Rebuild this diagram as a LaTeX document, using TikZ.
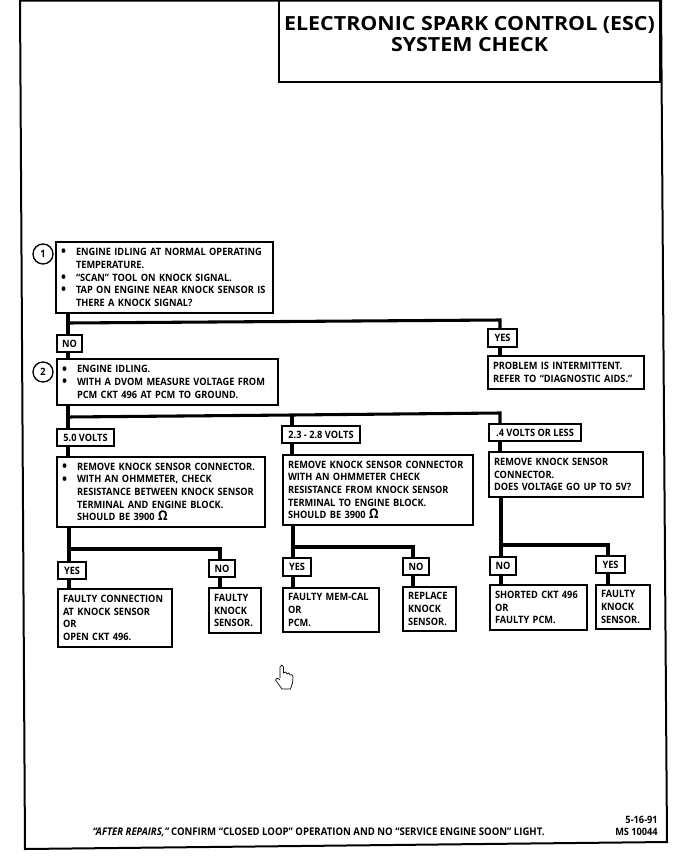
\documentclass[tikz,border=0pt]{standalone}
\usepackage{fontspec}
\setmainfont{Open Sans}[FakeStretch=0.91]
\newfontfamily\headfont{Open Sans}[FakeStretch=1.1]
\usepackage{tikz}
\usetikzlibrary{positioning}
\newlength{\hangw}
\setlength{\hangw}{11.25pt}
\newcommand{\bul}{\makebox[\hangw][l]{\raisebox{-0.8pt}{\fontsize{11}{9.5}\selectfont\textbullet}}}
\newcommand{\ind}{\hspace*{\hangw}}

\begin{document}
\begin{tikzpicture}[
    x=0.75pt, y=-0.75pt,
    every node/.style={font=\fontsize{7.6}{9.5}\selectfont\bfseries},
    stepbox/.style 2 args={draw=black, line width=1pt, fill=white, inner xsep=3.75pt, inner ysep=0pt,
                   text width=#1*0.75pt-7.5pt, minimum height=#2*0.75pt, align=left},
    tagbox/.style 2 args={draw=black, line width=1pt, fill=white, inner xsep=0pt, inner ysep=0pt,
                   minimum width=#1*0.75pt, minimum height=#2*0.75pt, align=center},
    numdot/.style={draw=black, line width=1pt, circle, fill=white, inner sep=0pt, minimum size=15pt},
    wire/.style={draw=black, line width=2.3pt}
]
\useasboundingbox (0,0) rectangle (677,857);
\fill[white] (0,0) rectangle (677,857);
% sheet outline
\draw[line width=1.5pt] (20,0.5) -- (661,0.5) -- (667,842) -- (25,849) -- cycle;
\node[draw=black, line width=1pt, minimum width=381*0.75pt, minimum height=82*0.75pt, inner sep=0pt,
      label={[anchor=north, yshift=-9pt, align=center, font=\headfont\fontsize{14.6}{16}\selectfont\bfseries]90:ELECTRONIC SPARK CONTROL (ESC)\\SYSTEM CHECK}]
      (title) at (469.5,41) {};

\node[stepbox={217}{71}] (chk1) at (164.5,277.5) {\bul ENGINE IDLING AT NORMAL OPERATING\\
  \ind TEMPERATURE.\\
  \bul “SCAN” TOOL ON KNOCK SIGNAL.\\
  \bul TAP ON ENGINE NEAR KNOCK SENSOR IS\\
  \ind THERE A KNOCK SIGNAL?};
\node[numdot] (num1) at (43,254) {1};
\node[tagbox={25}{17}] (no1) at (69.5,343.5) {NO};
\node[tagbox={29}{18}] (yes1) at (502.5,338) {YES};
\node[stepbox={156}{33}] (prob) at (566,372.5) {PROBLEM IS INTERMITTENT.\\REFER TO “DIAGNOSTIC AIDS.”};
\node[stepbox={221}{46}] (chk2) at (167.5,382) {\bul ENGINE IDLING.\\
  \bul WITH A DVOM MEASURE VOLTAGE FROM\\
  \ind PCM CKT 496 AT PCM TO GROUND.};
\node[numdot] (num2) at (43,372) {2};

\node[tagbox={57}{17}] (fivev) at (85.5,437.5) {5.0 VOLTS};
\node[tagbox={78}{17}] (midv) at (321,434.5) {2.3 - 2.8 VOLTS};
\node[tagbox={92}{17}] (lowv) at (535,432.5) {.4 VOLTS OR LESS};

\node[stepbox={208}{70}] (fivechk) at (161,492) {\bul REMOVE KNOCK SENSOR CONNECTOR.\\
  \bul WITH AN OHMMETER, CHECK\\
  \ind RESISTANCE BETWEEN KNOCK SENSOR\\
  \ind TERMINAL AND ENGINE BLOCK.\\
  \ind SHOULD BE 3900 {\fontsize{10}{9.5}\selectfont Ω}};
\node[stepbox={190}{70}] (midchk) at (378,490) {REMOVE KNOCK SENSOR CONNECTOR\\
  WITH AN OHMMETER CHECK\\
  RESISTANCE FROM KNOCK SENSOR\\
  TERMINAL TO ENGINE BLOCK.\\
  SHOULD BE 3900 {\fontsize{10}{9.5}\selectfont Ω}};
\node[stepbox={154}{45}] (lowchk) at (566,474.5) {REMOVE KNOCK SENSOR\\
  CONNECTOR.\\
  DOES VOLTAGE GO UP TO 5V?};

\node[tagbox={28}{17}] (yesA) at (72,570.5) {YES};
\node[tagbox={26}{17}] (noA) at (222,568.5) {NO};
\node[tagbox={28}{18}] (yesB) at (297,567) {YES};
\node[tagbox={26}{17}] (noB) at (416,566.5) {NO};
\node[tagbox={26}{18}] (noC) at (503,566) {NO};
\node[tagbox={29}{17}] (yesC) at (610.5,564.5) {YES};

\node[stepbox={114}{58}] (resA) at (115,618) {FAULTY CONNECTION\\AT KNOCK SENSOR\\OR\\OPEN CKT 496.};
\node[stepbox={52}{45}] (resB) at (235,610.5) {FAULTY\\KNOCK\\SENSOR.};
\node[stepbox={96}{44}] (resC) at (331,610) {FAULTY MEM-CAL\\OR\\PCM.};
\node[stepbox={53}{44}] (resD) at (429.5,609) {REPLACE\\KNOCK\\SENSOR.};
\node[stepbox={97}{45}] (resE) at (538.5,607.5) {SHORTED CKT 496\\OR\\FAULTY PCM.};
\node[stepbox={54}{44}] (resF) at (623,607) {FAULTY\\KNOCK\\SENSOR.};

% junctions
\coordinate (topL) at (68,323);
\coordinate (topR) at (500,320);
\coordinate (midL) at (68,417);
\coordinate (midC) at (292,415);
\coordinate (midR) at (500,413);
\coordinate (lowAL) at (69,549);
\coordinate (lowAR) at (220,549);
\coordinate (lowBL) at (293,547);
\coordinate (lowBR) at (413,547);
\coordinate (lowCL) at (501,545);
\coordinate (lowCR) at (608,545);

\draw[wire] (chk1.south -| topL) -- (topL) -- (no1.north -| topL);
\draw[wire] (no1.south -| topL) -- (chk2.north -| topL);
\draw[wire] (topL) -- (topR) -- (yes1.north -| topR);
\draw[wire] (yes1.south -| topR) -- (prob.north -| topR);
\draw[wire] (chk2.south -| midL) -- (midL) -- (fivev.north -| midL);
\draw[wire] (fivev.south -| midL) -- (fivechk.north -| midL);
\draw[wire] (midL) -- (midC) -- (midR) -- (lowv.north -| midR);
\draw[wire] (lowv.south -| midR) -- (lowchk.north -| midR);
\draw[wire] (midC) -- (midv.north -| midC);
\draw[wire] (midv.south -| midC) -- (midchk.north -| midC);
\draw[wire] (fivechk.south -| lowAL) -- (lowAL) -- (yesA.north -| lowAL);
\draw[wire] (yesA.south -| lowAL) -- (resA.north -| lowAL);
\draw[wire] (lowAL) -- (lowAR) -- (noA.north -| lowAR);
\draw[wire] (noA.south -| lowAR) -- (resB.north -| lowAR);
\draw[wire] (midchk.south -| lowBL) -- (lowBL) -- (yesB.north -| lowBL);
\draw[wire] (yesB.south -| lowBL) -- (resC.north -| lowBL);
\draw[wire] (lowBL) -- (lowBR) -- (noB.north -| lowBR);
\draw[wire] (noB.south -| lowBR) -- (resD.north -| lowBR);
\draw[wire] (lowchk.south -| lowCL) -- (lowCL) -- (noC.north -| lowCL);
\draw[wire] (noC.south -| lowCL) -- (resE.north -| lowCL);
\draw[wire] (lowCL) -- (lowCR) -- (yesC.north -| lowCR);
\draw[wire] (yesC.south -| lowCR) -- (resF.north -| lowCR);

% pointer mark
\draw[line width=0.5pt, fill=white] (280,678) -- (280,667) .. controls (280,664.5) and (283.5,664.5) .. (283.5,667)
  -- (283.5,673) .. controls (285,671.5) and (287,671.5) .. (287,674) .. controls (288,672.5) and (290,672.5) .. (290,675)
  .. controls (291,674) and (293,674.5) .. (293,677) -- (292.5,683) -- (290.5,689) -- (282,689) -- (275.5,680)
  .. controls (275.5,678) and (278,677.5) .. (280,680);

\node[font=\fontsize{7.9}{9.5}\selectfont\bfseries] (note) at (318.5,832.5) {{\itshape “AFTER REPAIRS,”} CONFIRM “CLOSED LOOP” OPERATION AND NO “SERVICE ENGINE SOON” LIGHT.};
\node[align=right, anchor=east, inner xsep=0pt] (stamp) at (658,826) {5-16-91\\MS 10044};
\end{tikzpicture}
\end{document}
